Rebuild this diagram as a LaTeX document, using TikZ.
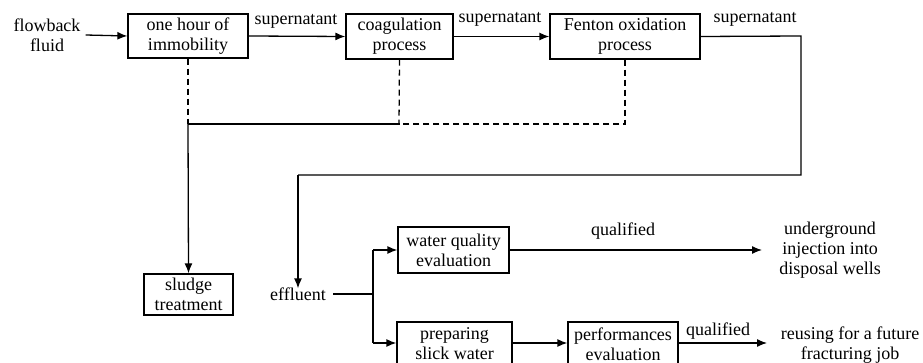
\documentclass[tikz,border=0pt]{standalone}
\usepackage{fontspec}
\setmainfont{Liberation Serif}
\usetikzlibrary{arrows.meta}
\begin{document}
\begin{tikzpicture}[x=1pt,y=-1pt,
  font=\fontsize{18}{20}\selectfont,
  box/.style={draw, line width=1.3pt, align=center, inner sep=0pt, minimum height=44pt},
  txt/.style={align=center, inner sep=1pt},
  ln/.style={line width=1.3pt},
  arr/.style={ln, -{Latex[length=10pt,width=8pt]}},
  dsh/.style={ln, dash pattern=on 6pt off 4pt}]
\clip (0,0) rectangle (923,363);
% nodes
\node[txt] (flow) at (47,35) {flowback\\fluid};
\node[box, minimum width=120pt] (b1) at (188,36) {one hour of\\immobility};
\node[box, minimum width=107pt, minimum height=45pt] (b2) at (399.5,36.5) {coagulation\\process};
\node[box, minimum width=150pt, minimum height=45pt] (b3) at (625,36.5) {Fenton oxidation\\process};
\node[box, minimum width=89pt, minimum height=41pt] (sludge) at (188.5,294.5) {sludge\\treatment};
\node[txt] (eff) at (298,294) {effluent};
\node[box, minimum width=111pt, minimum height=46pt] (wq) at (453.5,250) {water quality\\evaluation};
\node[box, minimum width=115pt] (prep) at (454.5,344) {preparing\\slick water};
\node[box, minimum width=110pt] (perf) at (623,344) {performances\\evaluation};
\node[txt] (under) at (830,250) {underground\\injection into\\disposal wells};
\node[txt] (reuse) at (850,345) {reusing for a future\\fracturing job};
% labels
\node[txt] (s1) at (296,21) {supernatant};
\node[txt] (s2) at (500,19) {supernatant};
\node[txt] (s3) at (755,19) {supernatant};
\node[txt] (q1) at (623,231) {qualified};
\node[txt] (q2) at (718,331) {qualified};
% coordinates
\coordinate (c1) at (188,124);
\coordinate (c2) at (399,124);
\coordinate (c3) at (625,124);
\coordinate (r1) at (801,36);
\coordinate (r2) at (801,175);
\coordinate (r3) at (298,175);
\coordinate (j) at (373,294);
\coordinate (ja) at (373,250);
\coordinate (jb) at (373,343);
\coordinate (e1) at (762,250);
\coordinate (e2) at (767,343);
% connectors
\draw[arr] (flow.east) ++(4,0) -- (b1.west);
\draw[arr] (b1.east) -- (b2.west);
\draw[arr] (b2.east) -- (b3.west);
\draw[ln] (b3.east) -- (r1) -- (r2) -- (r3);
\draw[arr] (r3) -- ([yshift=-2pt]eff.north);
\draw[dsh] (b1.south) -- (c1);
\draw[dsh] (b2.south) -- (c2);
\draw[dsh] (b3.south) -- (c3) -- (c2);
\draw[ln] (c2) -- (c1);
\draw[arr] (c1) -- (sludge.north);
\draw[ln] ([xshift=6pt]eff.east) -- (j);
\draw[ln] (ja) -- (jb);
\draw[arr] (ja) -- (wq.west);
\draw[arr] (jb) -- (prep.west |- jb);
\draw[arr] (wq.east) -- (e1);
\draw[arr] (prep.east |- jb) -- (perf.west |- jb);
\draw[arr] (perf.east |- jb) -- (e2);
\end{tikzpicture}
\end{document}
